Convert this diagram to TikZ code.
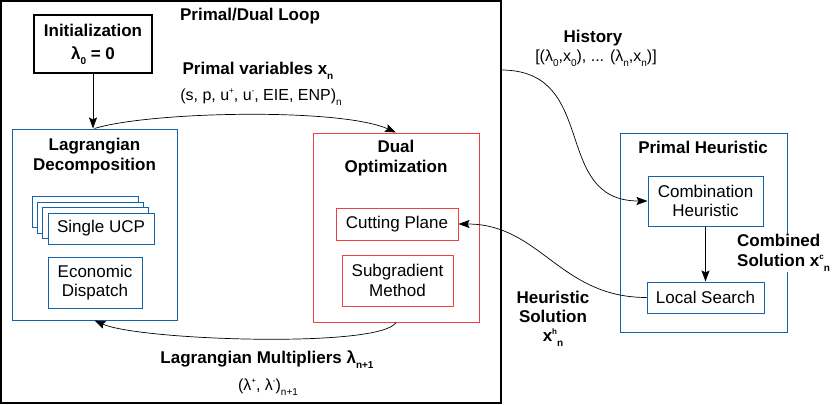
\documentclass[tikz,border=0pt]{standalone}
\usepackage{fontspec}
\setmainfont{Liberation Sans}
\usetikzlibrary{arrows.meta}
\definecolor{heurblue}{RGB}{22,98,170}
\definecolor{dualred}{RGB}{240,64,64}
\newcommand{\subx}[1]{\raisebox{-0.55ex}{\fontsize{10}{10}\selectfont #1}}
\newcommand{\supx}[1]{\raisebox{0.8ex}{\fontsize{8}{8}\selectfont #1}}

\begin{document}
\begin{tikzpicture}[x=1pt, y=-1pt,
        box/.style={rectangle, draw, line width=1pt, inner sep=0pt, align=center, font=\fontsize{17}{19.5}\selectfont},
        title/.style={align=center, inner sep=1pt, font=\fontsize{17}{19.5}\selectfont\bfseries},
        note/.style={align=center, inner sep=1pt, font=\fontsize{16}{19}\selectfont},
        flow/.style={-{Stealth[length=11pt, width=8pt, inset=2pt]}, line width=0.7pt},
    ]
        \useasboundingbox (0,0) rectangle (840,404);

        % Outer loop
        \node[box, line width=1.3pt, minimum width=500pt, minimum height=402pt] (loop) at (251,202) {};
        \node[title] (looptitle) at (250,16) {Primal/Dual Loop};

        \node[box, line width=1.2pt, font=\fontsize{17}{23}\selectfont\bfseries, minimum width=118pt, minimum height=58pt] (init) at (93,44) {Initialization\\λ\subx{0} = 0};

        % Lagrangian decomposition
        \node[box, draw=heurblue, minimum width=165pt, minimum height=191pt] (lagdec) at (94.5,224.5) {};
        \node[title] (lagtitle) at (94.5,156) {Lagrangian\\Decomposition};
        \foreach \i in {3,2,1}
            \node[box, draw=heurblue, fill=white, minimum width=106pt, minimum height=31pt] (ucp\i) at ({101-5.3*\i},{228.5-5.5*\i}) {};
        \node[box, draw=heurblue, fill=white, minimum width=106pt, minimum height=31pt] (ucp) at (101,228.5) {Single UCP};
        \node[box, draw=heurblue, minimum width=94pt, minimum height=51pt] (ed) at (95,282.5) {Economic\\Dispatch};

        % Dual optimization
        \node[box, draw=dualred, minimum width=166pt, minimum height=189pt] (dual) at (396,227.5) {};
        \node[title] (dualtitle) at (396,158) {Dual\\Optimization};
        \node[box, draw=dualred, minimum width=122pt, minimum height=32pt] (cut) at (397,224) {Cutting Plane};
        \node[box, draw=dualred, minimum width=111pt, minimum height=51pt] (subgrad) at (397.5,280.5) {Subgradient\\Method};

        % Primal heuristic
        \node[box, draw=heurblue, minimum width=167pt, minimum height=199pt] (ph) at (703.5,232.5) {};
        \node[title] (phtitle) at (703,147) {Primal Heuristic};
        \node[box, draw=heurblue, minimum width=115pt, minimum height=50pt] (comb) at (705.5,201) {Combination\\Heuristic};
        \node[box, draw=heurblue, minimum width=117pt, minimum height=31pt] (ls) at (705.5,297.5) {Local Search};

        % Labels
        \node[title] (pvlab) at (258,71) {Primal variables x\subx{n}};
        \node[note] (pvsub) at (261,97) {(s, p, u\supx{+}, u\supx{-}, EIE, ENP)\subx{n}};
        \node[title] (lmlab) at (267,360) {Lagrangian Multipliers λ\subx{n+1}};
        \node[note] (lmsub) at (268,387) {(λ\supx{+}, λ\supx{-})\subx{n+1}};
        \node[title] (histlab) at (593,38) {History};
        \node[note] (histsub) at (596,58) {[(λ\subx{0},x\subx{0}), ... (λ\subx{n},x\subx{n})]};
        \node[title, font=\fontsize{17}{19}\selectfont\bfseries] (hslab) at (553,319) {Heuristic\\Solution\\x\supx{h}\subx{n}};
        \node[title, align=left, anchor=west, fill=white] (cslab) at (736,253) {Combined\\Solution x\supx{c}\subx{n}};

        % Connectors
        \coordinate (histstart) at (501,70);
        \draw[flow] (init.south) -- (init.south |- lagdec.north);
        \draw[flow] (lagdec.north) .. controls +(55,-17) and +(-56,-25) .. (dual.north);
        \draw[flow] (dual.south) .. controls +(-16,26) and +(45,20) .. (lagdec.south);
        \draw[flow] (histstart) .. controls +(99,0) and +(-97,0) .. (comb.west);
        \draw[flow] (comb) -- (ls);
        \draw[flow] (ls.west) .. controls +(-87,0) and +(82,0) .. (cut.east);
    \end{tikzpicture}
\end{document}
